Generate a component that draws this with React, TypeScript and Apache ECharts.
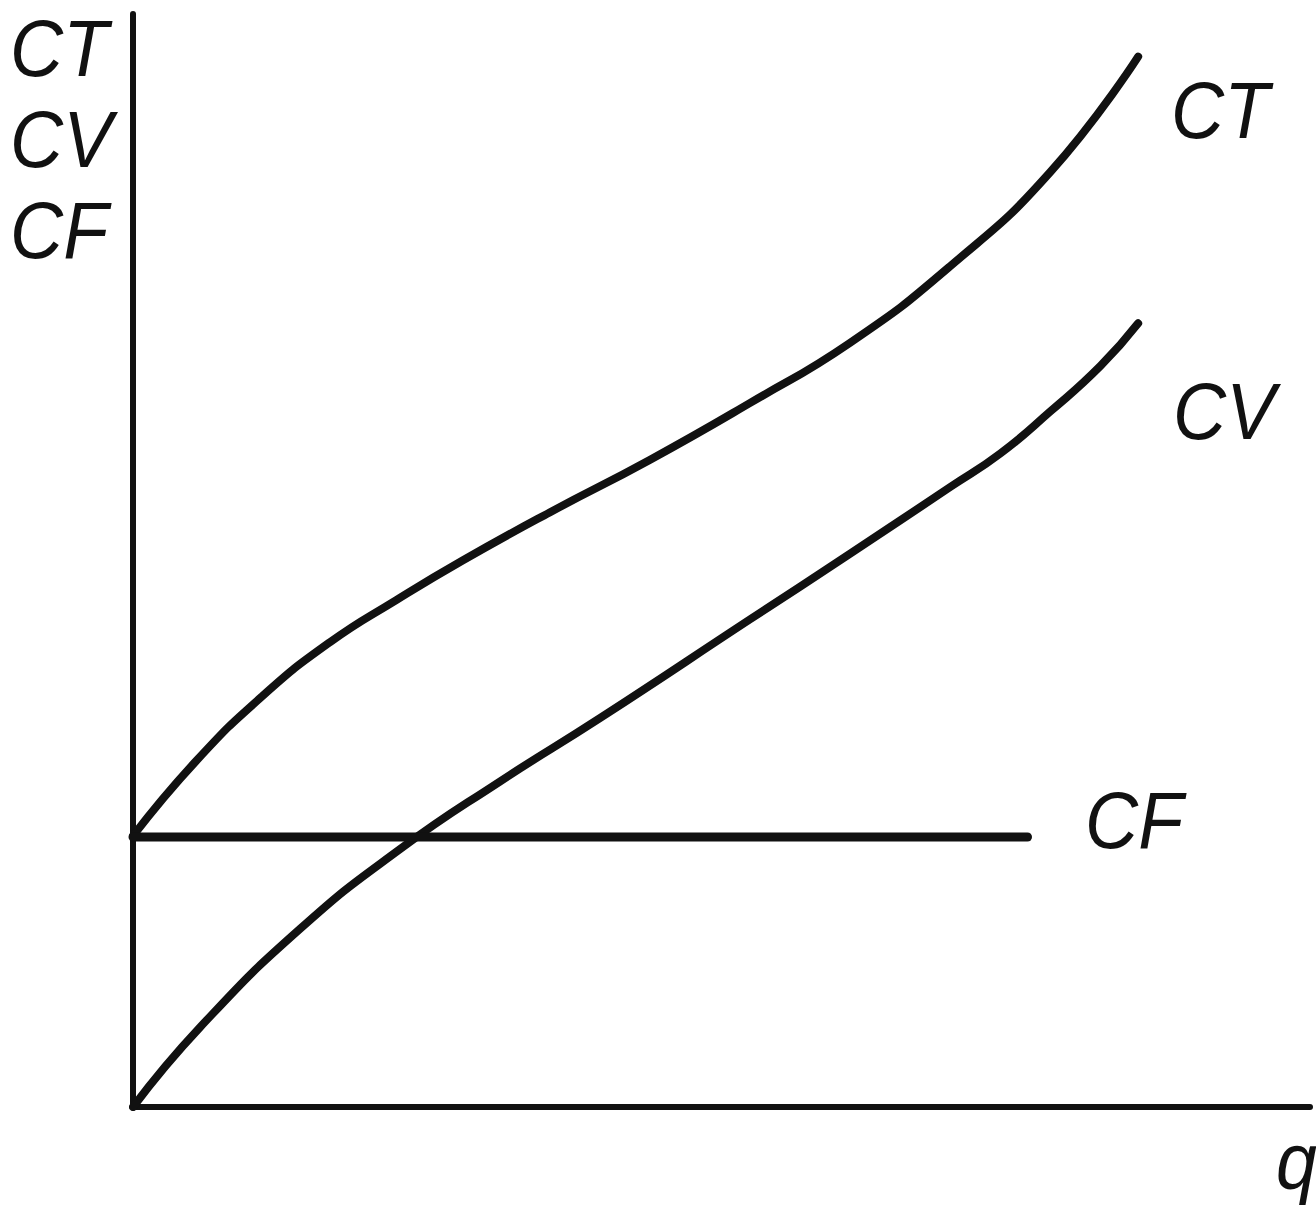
import React, { useEffect, useRef } from "react";
import * as echarts from "echarts";

// Quantity (q) positions and cost values (axes 0..100)
const ctQ = [0, 5.4, 11.0, 16.7, 22.4, 28.0, 35.4, 43.9, 52.4, 60.9, 69.4, 77.9, 85.4];
const ctVal = [24.8, 31.7, 37.6, 42.5, 46.4, 50.0, 54.4, 59.2, 64.4, 69.9, 76.9, 85.5, 96.1];

const cvQ = [0, 5.7, 14.2, 22.7, 31.2, 39.7, 52.4, 60.9, 69.4, 73.7, 77.9, 82.2, 85.4];
const cvVal = [0, 7.3, 16.3, 23.6, 29.8, 35.6, 44.6, 50.6, 56.7, 59.8, 63.6, 67.8, 71.7];

const cfQ = [0, 76];
const cfVal = [24.7, 24.7];

const yAxisLabels = ["CT", "CV", "CF"];
const xAxisLabel = "q";

const FONT = "'Liberation Sans', Arial, Helvetica, sans-serif";

export default function App() {
  const ref = useRef<HTMLDivElement>(null);

  useEffect(() => {
    if (!ref.current) return;
    const chart = echarts.init(ref.current, undefined, { renderer: "svg" });

    const pairs = (xs: number[], ys: number[]) => xs.map((x, i) => [x, ys[i]]);

    const label = (text: string, x: number, y: number) => ({
      type: "text",
      x,
      y,
      scaleX: 0.92,
      style: {
        text,
        fill: "#111",
        fontSize: 80,
        fontStyle: "italic",
        fontFamily: FONT,
        align: "left",
        verticalAlign: "middle",
      },
    });

    const lineSeries = (name: string, data: number[][], width: number, smooth: number | boolean) => ({
      name,
      type: "line",
      data,
      smooth,
      symbol: "none",
      lineStyle: { color: "#111", width, cap: "round", join: "round" },
    });

    chart.setOption({
      animation: false,
      backgroundColor: "#ffffff",
      grid: { left: 133, right: 6, top: 14, bottom: 104 },
      xAxis: {
        type: "value",
        min: 0,
        max: 100,
        axisLine: { show: true, onZero: false, lineStyle: { color: "#111", width: 6 } },
        axisTick: { show: false },
        axisLabel: { show: false },
        splitLine: { show: false },
      },
      yAxis: {
        type: "value",
        min: 0,
        max: 100,
        axisLine: { show: true, onZero: false, lineStyle: { color: "#111", width: 6 } },
        axisTick: { show: false },
        axisLabel: { show: false },
        splitLine: { show: false },
      },
      series: [
        lineSeries("CT", pairs(ctQ, ctVal), 8, 0.5),
        lineSeries("CV", pairs(cvQ, cvVal), 8, 0.5),
        lineSeries("CF", pairs(cfQ, cfVal), 9, false),
      ],
      graphic: [
        label(yAxisLabels[0], 10, 48),
        label(yAxisLabels[1], 10, 139),
        label(yAxisLabels[2], 10, 230),
        label("CT", 1171, 110),
        label("CV", 1173, 411),
        label("CF", 1085, 820),
        label(xAxisLabel, 1276, 1160),
      ],
    });

    return () => chart.dispose();
  }, []);

  return (
    <div
      ref={ref}
      style={{ position: "absolute", left: 0, top: 0, width: 1316, height: 1211, background: "#fff" }}
    />
  );
}
